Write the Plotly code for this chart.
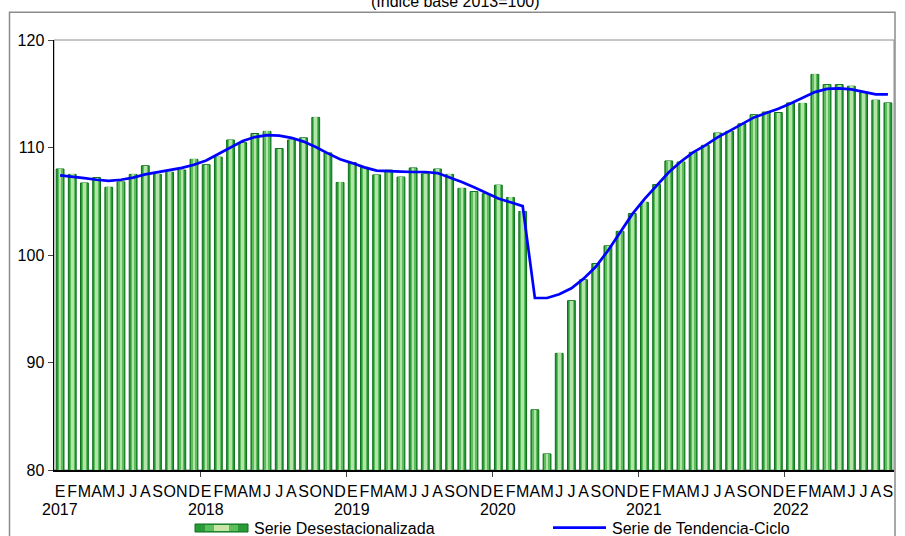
import plotly.graph_objects as go

# ---------------- data ----------------
month_letters = ["E", "F", "M", "A", "M", "J", "J", "A", "S", "O", "N", "D"]
years = ["2017", "2018", "2019", "2020", "2021", "2022"]

serie_desestacionalizada = [
    # 2017
    108.0, 107.5, 106.7, 107.2, 106.3, 106.8, 107.5, 108.3, 107.5, 107.7, 107.9, 108.9,
    # 2018
    108.4, 109.1, 110.7, 110.45, 111.3, 111.5, 109.9, 110.7, 110.9, 112.8, 109.5, 106.75,
    # 2019
    108.6, 108.15, 107.45, 107.9, 107.25, 108.1, 107.55, 108.0, 107.5, 106.2, 105.9, 105.7,
    # 2020
    106.5, 105.35, 104.05, 85.6, 81.5, 90.85, 95.75, 97.7, 99.2, 100.85, 102.2, 103.85,
    # 2021
    104.9, 106.55, 108.75, 108.65, 109.55, 110.2, 111.35, 111.5, 112.2, 113.05, 113.3, 113.25,
    # 2022
    114.15, 114.1, 116.8, 115.85, 115.85, 115.7, 115.1, 114.4, 114.15,
]

serie_tendencia_ciclo = [
    # 2017
    107.4, 107.3, 107.15, 107.0, 106.9, 107.0, 107.2, 107.5, 107.7, 107.9, 108.1, 108.4,
    # 2018
    108.8, 109.4, 110.0, 110.6, 110.97, 111.15, 111.1, 110.9, 110.55, 110.05, 109.45, 108.9,
    # 2019
    108.55, 108.15, 107.85, 107.78, 107.75, 107.72, 107.72, 107.62, 107.2, 106.8, 106.3, 105.8,
    # 2020
    105.25, 104.9, 104.55, 96.0, 96.0, 96.35, 96.9, 97.8, 98.9, 100.4, 102.1, 103.8,
    # 2021
    105.2, 106.5, 107.7, 108.7, 109.55, 110.2, 110.95, 111.55, 112.2, 112.8, 113.2, 113.6,
    # 2022
    114.1, 114.65, 115.15, 115.45, 115.5, 115.4, 115.15, 114.95, 114.95,
]

y_ticks = [80, 90, 100, 110, 120]
title_text = "(Índice base 2013=100)"
legend_bar = "Serie Desestacionalizada"
legend_line = "Serie de Tendencia-Ciclo"

# ---------------- layout helpers (screen pixels) ----------------
W, H = 905, 536
ML, MR, MT, MB = 54, 11, 40, 66
PW, PH = W - ML - MR, H - MT - MB


def px_x(p):
    return (p - ML) / PW


def px_y(p):
    return (H - MB - p) / PH


n = len(serie_desestacionalizada)
x = list(range(n))
ticktext = [month_letters[i % 12] for i in x]

FONT = "Arial, 'Liberation Sans', sans-serif"
DARK = "#0b6f1b"
EDGE = "#2a9a38"
MID = "#5cbf5c"
LIGHT = "#b4e4aa"

fig = go.Figure()

# gradient-like bars: outer, middle, inner overlays
fig.add_trace(go.Bar(x=x, y=serie_desestacionalizada, width=0.64,
                     marker=dict(color=EDGE, line=dict(color=DARK, width=1)),
                     name=legend_bar, showlegend=False, hoverinfo="skip"))
fig.add_trace(go.Bar(x=x, y=serie_desestacionalizada, width=0.42,
                     marker=dict(color=MID, line=dict(width=0)),
                     showlegend=False, hoverinfo="skip"))
fig.add_trace(go.Bar(x=x, y=serie_desestacionalizada, width=0.21,
                     marker=dict(color=LIGHT, line=dict(width=0)),
                     showlegend=False, hoverinfo="skip"))

fig.add_trace(go.Scatter(x=x, y=serie_tendencia_ciclo, mode="lines",
                         line=dict(color="#0000ff", width=2.7),
                         name=legend_line, showlegend=False, hoverinfo="skip"))

shapes = []
# plot-area border (gray) beneath traces
shapes.append(dict(type="rect", xref="paper", yref="paper", x0=0, x1=1, y0=0, y1=1,
                   line=dict(color="#8c8c8c", width=1), layer="below"))
# chart-area border
shapes.append(dict(type="rect", xref="paper", yref="paper",
                   x0=px_x(9.5), x1=px_x(895), y0=px_y(545), y1=px_y(12.3),
                   line=dict(color="#8c8c8c", width=1.5), layer="below"))

# legend swatch for bars
bx0, bx1, by0, by1 = 195, 248, 524, 532
shapes.append(dict(type="rect", xref="paper", yref="paper",
                   x0=px_x(bx0), x1=px_x(bx1), y0=px_y(by1), y1=px_y(by0),
                   fillcolor=EDGE, line=dict(color=DARK, width=1)))
shapes.append(dict(type="rect", xref="paper", yref="paper",
                   x0=px_x(205), x1=px_x(238), y0=px_y(by1 - 1), y1=px_y(by0 + 1),
                   fillcolor=MID, line=dict(width=0)))
shapes.append(dict(type="rect", xref="paper", yref="paper",
                   x0=px_x(214), x1=px_x(229), y0=px_y(by1 - 1), y1=px_y(by0 + 1),
                   fillcolor="#c9e6a8", line=dict(width=0)))
# legend swatch for line
shapes.append(dict(type="line", xref="paper", yref="paper",
                   x0=px_x(553), x1=px_x(606), y0=px_y(527.7), y1=px_y(527.7),
                   line=dict(color="#0000ff", width=2.7)))

annotations = []
annotations.append(dict(text=title_text, xref="paper", yref="paper",
                        x=px_x(455), y=px_y(12), xanchor="center", yanchor="bottom",
                        showarrow=False, font=dict(family=FONT, size=16, color="black")))
for k, yr in enumerate(years):
    annotations.append(dict(text=yr, xref="x", yref="paper", x=12 * k, y=px_y(509.5),
                            xanchor="center", yanchor="middle", showarrow=False,
                            font=dict(family=FONT, size=16, color="black")))
annotations.append(dict(text=legend_bar, xref="paper", yref="paper",
                        x=px_x(252), y=px_y(528.5), xanchor="left", yanchor="middle",
                        showarrow=False, font=dict(family=FONT, size=16, color="black")))
annotations.append(dict(text=legend_line, xref="paper", yref="paper",
                        x=px_x(610), y=px_y(528.5), xanchor="left", yanchor="middle",
                        showarrow=False, font=dict(family=FONT, size=16, color="black")))

fig.update_layout(
    width=W, height=H,
    margin=dict(l=ML, r=MR, t=MT, b=MB, pad=0),
    paper_bgcolor="white", plot_bgcolor="white",
    barmode="overlay", bargap=0,
    showlegend=False,
    hovermode=False,
    font=dict(family=FONT, size=16, color="black"),
    shapes=shapes, annotations=annotations,
    xaxis=dict(
        range=[-0.5, n - 0.5], tickmode="array", tickvals=x, ticktext=ticktext,
        ticks="outside", ticklen=6, tickcolor="rgba(0,0,0,0)",
        showline=True, linecolor="black", linewidth=1.5,
        showgrid=False, zeroline=False,
        tickfont=dict(family=FONT, size=16, color="black"), tickangle=0,
        minor=dict(tickmode="array", tickvals=[12 * k - 0.5 for k in range(1, len(years))],
                   ticks="outside", ticklen=5, tickcolor="#444", tickwidth=1, showgrid=False),
    ),
    yaxis=dict(
        range=[80, 120], tickmode="array", tickvals=y_ticks,
        ticks="outside", ticklen=5, tickcolor="#444", tickwidth=1,
        showline=True, linecolor="black", linewidth=1.5,
        showgrid=False, zeroline=False,
        tickfont=dict(family=FONT, size=16, color="black"),
    ),
)

# remove the default page margin so the figure sits at the window's top-left corner
fig.write_html("out.html",
               config={"displayModeBar": False, "staticPlot": True},
               post_script="document.body.style.margin='0px';document.body.style.overflow='hidden';")
